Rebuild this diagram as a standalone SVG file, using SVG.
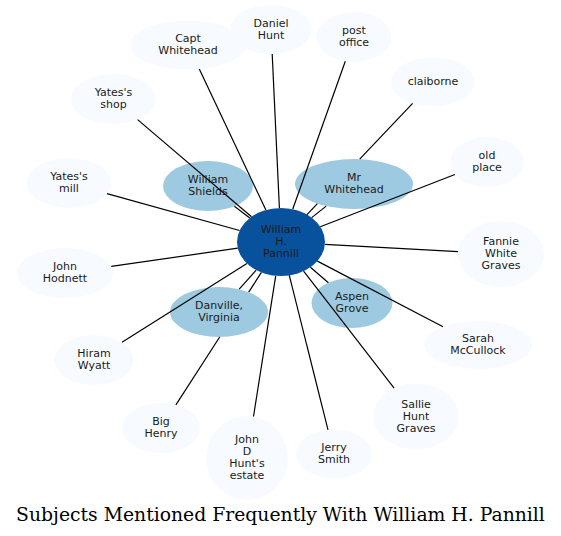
<svg xmlns="http://www.w3.org/2000/svg" width="561" height="536" viewBox="0 0 561 536">
<style>
.n text{font-family:"DejaVu Sans",sans-serif;font-size:11px;fill:#1a1a1a;text-anchor:middle}
.lt ellipse{fill:#f7fbff}
.md ellipse{fill:#9ecae1}
.dk ellipse{fill:#08519c}
#edges line{stroke:#000;stroke-width:1.2}
.title{font-family:"DejaVu Serif",serif;font-size:18.8px;fill:#000;text-anchor:middle}
</style>
<rect width="561" height="536" fill="#fff"/>
<g id="n-capt" class="n lt"><ellipse cx="188" cy="45" rx="58" ry="24.5"/><text x="188" y="42">Capt</text><text x="188" y="54">Whitehead</text></g>
<g id="n-daniel" class="n lt"><ellipse cx="271" cy="29.5" rx="41" ry="24.5"/><text x="271" y="26.5">Daniel</text><text x="271" y="38.5">Hunt</text></g>
<g id="n-post" class="n lt"><ellipse cx="354" cy="37" rx="37.5" ry="25"/><text x="354" y="34">post</text><text x="354" y="46">office</text></g>
<g id="n-claiborne" class="n lt"><ellipse cx="433" cy="82" rx="42" ry="24.5"/><text x="433" y="85">claiborne</text></g>
<g id="n-oldplace" class="n lt"><ellipse cx="487" cy="162" rx="37" ry="25"/><text x="487" y="159">old</text><text x="487" y="171">place</text></g>
<g id="n-fannie" class="n lt"><ellipse cx="501" cy="254" rx="43" ry="33"/><text x="501" y="245">Fannie</text><text x="501" y="257">White</text><text x="501" y="269">Graves</text></g>
<g id="n-sarah" class="n lt"><ellipse cx="478" cy="345" rx="54" ry="24"/><text x="478" y="342">Sarah</text><text x="478" y="354">McCullock</text></g>
<g id="n-sallie" class="n lt"><ellipse cx="416" cy="416.5" rx="43" ry="33"/><text x="416" y="407.5">Sallie</text><text x="416" y="419.5">Hunt</text><text x="416" y="431.5">Graves</text></g>
<g id="n-jerry" class="n lt"><ellipse cx="334" cy="454" rx="38" ry="24.5"/><text x="334" y="451">Jerry</text><text x="334" y="463">Smith</text></g>
<g id="n-jdhunt" class="n lt"><ellipse cx="247" cy="458" rx="41" ry="42"/><text x="247" y="443">John</text><text x="247" y="455">D</text><text x="247" y="467">Hunt's</text><text x="247" y="479">estate</text></g>
<g id="n-bighenry" class="n lt"><ellipse cx="161" cy="428" rx="39" ry="25"/><text x="161" y="425">Big</text><text x="161" y="437">Henry</text></g>
<g id="n-hiram" class="n lt"><ellipse cx="94" cy="360" rx="39.5" ry="25"/><text x="94" y="357">Hiram</text><text x="94" y="369">Wyatt</text></g>
<g id="n-hodnett" class="n lt"><ellipse cx="65" cy="273" rx="48" ry="25"/><text x="65" y="270">John</text><text x="65" y="282">Hodnett</text></g>
<g id="n-yatesmill" class="n lt"><ellipse cx="69" cy="183" rx="42" ry="25"/><text x="69" y="180">Yates's</text><text x="69" y="192">mill</text></g>
<g id="n-yatesshop" class="n lt"><ellipse cx="113.5" cy="99" rx="42.5" ry="25"/><text x="113.5" y="96">Yates's</text><text x="113.5" y="108">shop</text></g>
<g id="n-shields" class="n md"><ellipse cx="208" cy="186" rx="45" ry="25"/><text x="208" y="183">William</text><text x="208" y="195">Shields</text></g>
<g id="n-mrwhitehead" class="n md"><ellipse cx="354" cy="184" rx="59" ry="25"/><text x="354" y="181">Mr</text><text x="354" y="193">Whitehead</text></g>
<g id="n-danville" class="n md"><ellipse cx="219" cy="312" rx="49" ry="25"/><text x="219" y="309">Danville,</text><text x="219" y="321">Virginia</text></g>
<g id="n-aspen" class="n md"><ellipse cx="352" cy="303" rx="40.5" ry="25"/><text x="352" y="300">Aspen</text><text x="352" y="312">Grove</text></g>
<g id="n-pannill" class="n dk"><ellipse cx="281" cy="242" rx="44" ry="34"/><text x="281" y="233">William</text><text x="281" y="245">H.</text><text x="281" y="257">Pannill</text></g>
<g id="edges">
<line x1="265.9" y1="210.1" x2="199.3" y2="69"/>
<line x1="279.4" y1="208" x2="272.2" y2="54"/>
<line x1="292.7" y1="209.2" x2="345.3" y2="61.3"/>
<line x1="307" y1="214.6" x2="317.4" y2="203.6"/>
<line x1="359.7" y1="159.1" x2="412.6" y2="103.4"/>
<line x1="320.3" y1="226.7" x2="454.9" y2="174.5"/>
<line x1="324.9" y1="244.4" x2="458.1" y2="251.7"/>
<line x1="317.4" y1="261.1" x2="443" y2="326.7"/>
<line x1="303.6" y1="271.2" x2="394.1" y2="388.1"/>
<line x1="289.3" y1="275.4" x2="328" y2="429.8"/>
<line x1="275.7" y1="275.8" x2="253.5" y2="416.5"/>
<line x1="261.4" y1="272.4" x2="248.7" y2="292.1"/>
<line x1="219.7" y1="337" x2="175.9" y2="404.9"/>
<line x1="246.9" y1="263.5" x2="122" y2="342.3"/>
<line x1="237.7" y1="248.2" x2="111.3" y2="266.4"/>
<line x1="239.6" y1="230.5" x2="107" y2="193.6"/>
<line x1="251.5" y1="216.8" x2="137.6" y2="119.6"/>
<line x1="249.8" y1="218" x2="234.4" y2="206.2"/>
<line x1="311.7" y1="217.6" x2="326.2" y2="206.1"/>
<line x1="256.2" y1="270.1" x2="239.2" y2="289.2"/>
<line x1="310.4" y1="267.3" x2="328.4" y2="282.7"/>
</g>
<text class="title" x="280.5" y="521">Subjects Mentioned Frequently With William H. Pannill</text>
</svg>
